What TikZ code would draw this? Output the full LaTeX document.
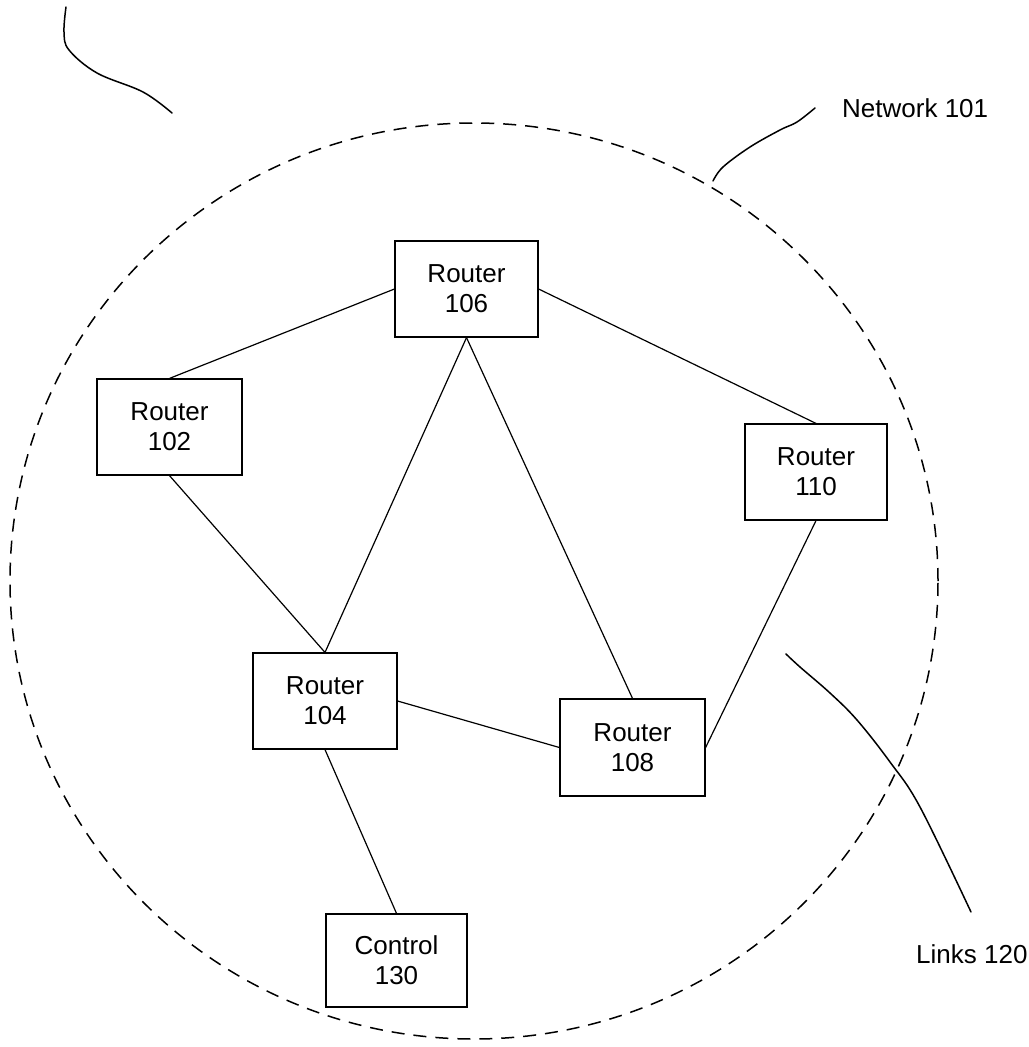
\documentclass[tikz,border=0pt]{standalone}
\usepackage{fontspec}
\setmainfont{Liberation Sans}
\begin{document}
\begin{tikzpicture}[x=1bp,y=-1bp,
  box/.style={draw, line width=1.2bp, rectangle, inner sep=0pt, align=center,
    font=\fontsize{26bp}{30bp}\selectfont},
  link/.style={line width=1.2bp},
  leader/.style={line width=1.5bp, line cap=round},
  lbl/.style={inner sep=0pt, font=\fontsize{26bp}{30bp}\selectfont}]
\useasboundingbox (0,0) rectangle (1029,1047);

% network boundary
\draw[line width=1.5bp, dash pattern=on 13bp off 9bp] (474,581) ellipse [x radius=464bp, y radius=458bp];

% routers
\node[box, minimum width=145bp, minimum height=96bp] (n102) at (169.5,427) {Router\\102};
\node[box, minimum width=143bp, minimum height=96bp] (n106) at (466.5,289) {Router\\106};
\node[box, minimum width=142bp, minimum height=96bp] (n110) at (816,472) {Router\\110};
\node[box, minimum width=144bp, minimum height=96bp] (n104) at (325,701) {Router\\104};
\node[box, minimum width=145bp, minimum height=97bp] (n108) at (632.5,747.5) {Router\\108};
\node[box, minimum width=141bp, minimum height=93bp] (n130) at (396.5,960.5) {Control\\130};

% links
\draw[link] (n106.west) -- (n102.north);
\draw[link] (n106.east) -- (n110.north);
\draw[link] (n106.south) -- (n104.north);
\draw[link] (n106.south) -- (n108.north);
\draw[link] (n102.south) -- (n104.north);
\draw[link] (n104.east) -- (n108.west);
\draw[link] (n110.south) -- (n108.east);
\draw[link] (n104.south) -- (n130.north);

% labels
\node[lbl, anchor=base west] (netlbl) at (842,117) {Network 101};
\node[lbl, anchor=base west] (linklbl) at (916,963) {Links 120};

% leader curves
\draw[leader] plot[smooth, tension=0.6] coordinates {(66,7) (64,32) (69,50) (97,73) (143,92) (172,113)};
\draw[leader] plot[smooth, tension=0.6] coordinates {(713,181) (723,167) (750,147) (780,130) (797,122) (815,108)};
\draw[leader] plot[smooth, tension=0.6] coordinates {(786,654) (800,667) (830,693) (857,720) (890,762) (920,807) (971,912)};
\end{tikzpicture}
\end{document}
